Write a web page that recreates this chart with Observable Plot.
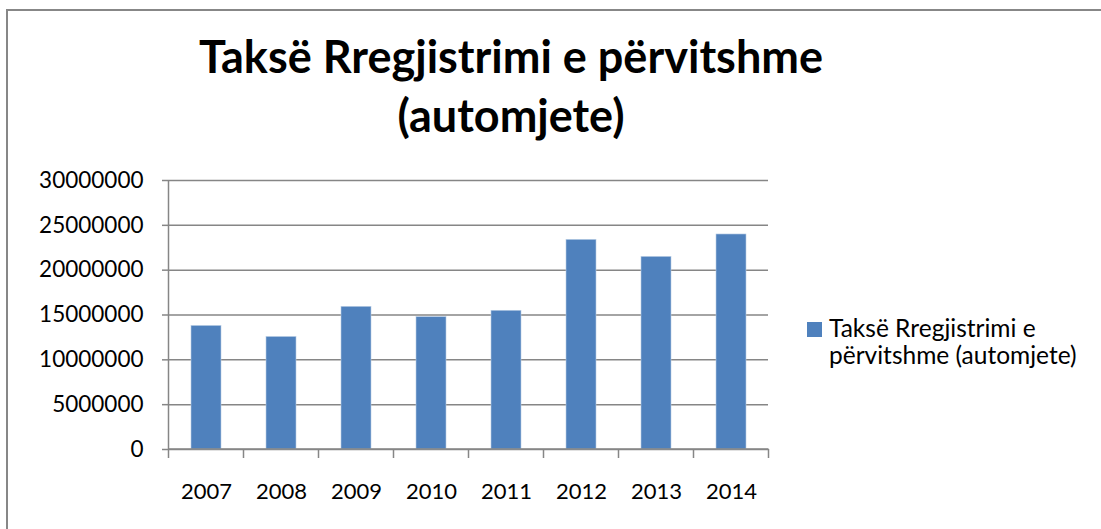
<!DOCTYPE html>
<html>
<head>
<meta charset="utf-8">
<script src="https://cdn.jsdelivr.net/npm/d3@7"></script>
<script src="https://cdn.jsdelivr.net/npm/@observablehq/plot@0.6"></script>
<style>
  html, body { margin: 0; padding: 0; background: #fff; overflow: hidden; }
  #wrap { position: relative; width: 1101px; height: 529px; overflow: hidden; background: #fff; }
  #frame { position: absolute; left: 6px; top: 9px; width: 1200px; height: 700px; border-left: 2px solid #878787; border-top: 2px solid #878787; }
  #chart { position: absolute; left: 0; top: 0; }
  #title { position: absolute; left: 111px; width: 800px; top: 27px; text-align: center; font-family: Lato, sans-serif; font-weight: bold; font-size: 45px; line-height: 59px; color: #000; white-space: nowrap; }
  #legend { position: absolute; left: 807px; top: 314px; font-family: Lato, sans-serif; font-size: 24.5px; line-height: 27px; color: #000; }
  #legend .sw { position: absolute; left: 0; top: 8px; width: 15px; height: 15px; background: #4f81bd; }
  #legend .tx { position: absolute; left: 22px; top: 0; white-space: nowrap; }
</style>
</head>
<body>
<div id="wrap">
  <div id="frame"></div>
  <div id="chart"></div>
  <div id="title">Taksë Rregjistrimi e përvitshme<br>(automjete)</div>
  <div id="legend"><div class="sw"></div><div class="tx">Taksë Rregjistrimi e<br>përvitshme (automjete)</div></div>
</div>
<script>
const years = ["2007", "2008", "2009", "2010", "2011", "2012", "2013", "2014"];
const values = [13780000, 12550000, 15910000, 14760000, 15470000, 23380000, 21480000, 23980000];
const yTicks = [0, 5000000, 10000000, 15000000, 20000000, 25000000, 30000000];
const seriesName = "Taksë Rregjistrimi e përvitshme (automjete)";

const data = years.map((year, i) => ({year, value: values[i], series: seriesName}));

const gray = "#868686";

function axisLines(index, scales) {
  const x = scales.x, y = scales.y;
  const step = x.step(), bw = x.bandwidth();
  const g = d3.create("svg:g").attr("stroke", gray).attr("stroke-width", 1.5).attr("fill", "none");
  const y0 = y(0), yTop = y(yTicks[yTicks.length - 1]);
  const xStart = x(years[0]) + bw / 2 - step / 2;
  const xEnd = x(years[years.length - 1]) + bw / 2 + step / 2;
  // vertical value axis
  g.append("line").attr("x1", xStart).attr("x2", xStart).attr("y1", yTop).attr("y2", y0);
  // category axis
  g.append("line").attr("x1", xStart).attr("x2", xEnd).attr("y1", y0).attr("y2", y0);
  // category boundary ticks
  const bounds = years.map(d => x(d) + bw / 2 - step / 2).concat([xEnd]);
  for (const b of bounds) {
    g.append("line").attr("x1", b).attr("x2", b).attr("y1", y0).attr("y2", y0 + 9);
  }
  return g.node();
}

const plot = Plot.plot({
  width: 1101,
  height: 529,
  marginLeft: 168,
  marginRight: 333,
  marginTop: 180,
  marginBottom: 80,
  style: {background: "transparent", fontFamily: "Lato, sans-serif", color: "#000"},
  x: {type: "band", domain: years, paddingInner: 0.6, paddingOuter: 0.3},
  y: {domain: [0, 30000000]},
  marks: [
    Plot.gridY(yTicks, {stroke: gray, strokeOpacity: 1, strokeWidth: 1.5}),
    Plot.barY(data, {x: "year", y: "value", fill: "#4f81bd", stroke: "#b9cde5", strokeWidth: 0.6}),
    axisLines,
    Plot.axisY(yTicks, {tickFormat: d => String(d), tickSize: 6, tickPadding: 19, fontSize: 22.5, stroke: gray, strokeWidth: 1.5, strokeOpacity: 1, fill: "#000", label: null}),
    Plot.axisX({tickSize: 0, tickPadding: 34, fontSize: 22, fill: "#000", label: null})
  ]
});
document.getElementById("chart").appendChild(plot);
</script>
</body>
</html>
